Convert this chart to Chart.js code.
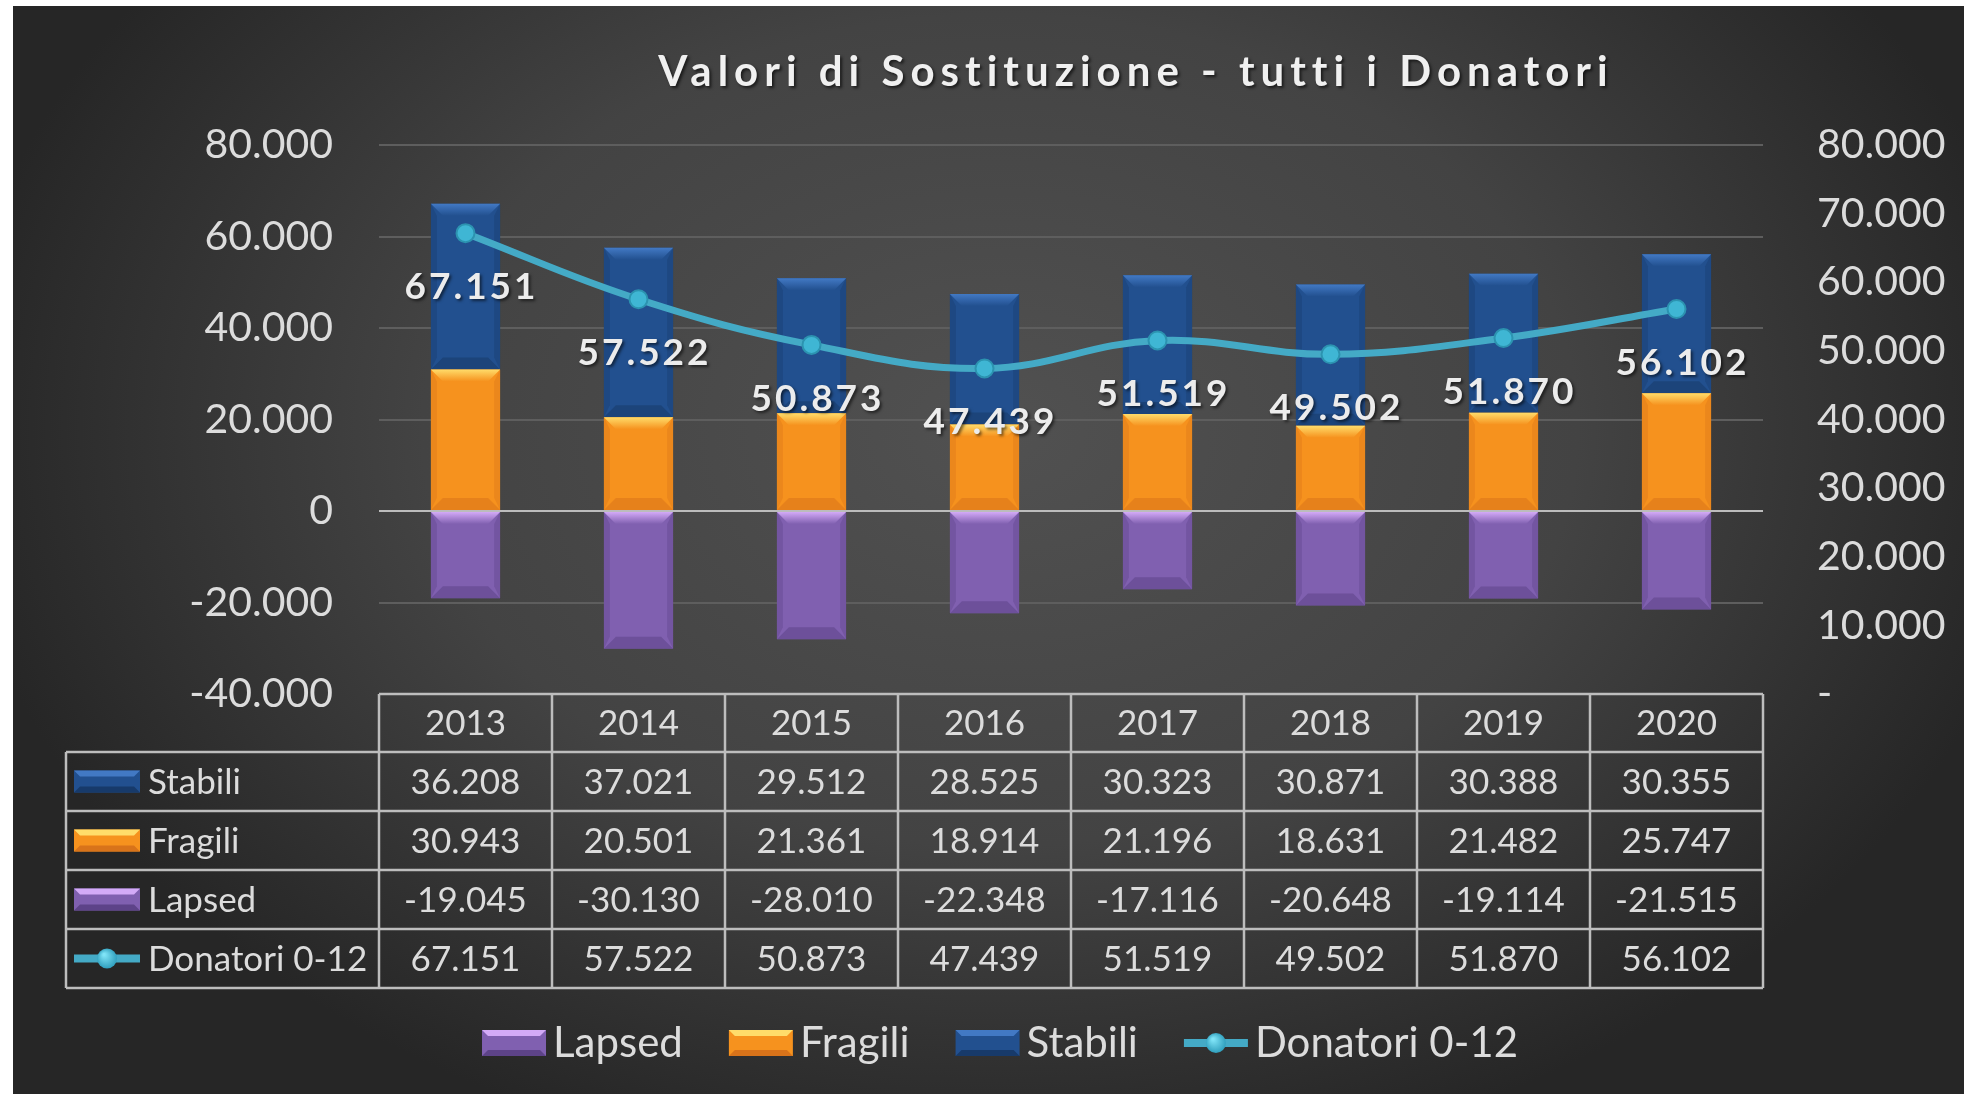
<!DOCTYPE html>
<html>
<head>
<meta charset="utf-8">
<title>Valori di Sostituzione - tutti i Donatori</title>
<script src="https://cdn.jsdelivr.net/npm/chart.js@4.4.1/dist/chart.umd.min.js"></script>
<style>
    html, body { margin: 0; padding: 0; background: #fff; }
    #wrap { width: 1964px; height: 1094px; position: relative; }
</style>
</head>
<body>
<div id="wrap"><canvas id="chart" width="1964" height="1094"></canvas></div>
<script>
// --- data ---
const years = ['2013', '2014', '2015', '2016', '2017', '2018', '2019', '2020'];
const stabili = [36208, 37021, 29512, 28525, 30323, 30871, 30388, 30355];
const fragili = [30943, 20501, 21361, 18914, 21196, 18631, 21482, 25747];
const lapsed = [-19045, -30130, -28010, -22348, -17116, -20648, -19114, -21515];
const donatori = [67151, 57522, 50873, 47439, 51519, 49502, 51870, 56102];

const leftAxis = { min: -40000, max: 80000, step: 20000 };
const rightAxis = { min: 0, max: 80000, step: 10000 };

const TITLE = 'Valori di Sostituzione - tutti i Donatori';
const FONT = 'Lato, "Open Sans", sans-serif';
const TEXT = '#dcdcdc';

const COLORS = {
    stabili: { base: '#22508f', light: '#4279c4', dark: '#173a6a' },
    fragili: { base: '#f6921e', light: '#ffdc6a', dark: '#d8731a' },
    lapsed: { base: '#8060b0', light: '#d3aaf7', dark: '#5d4388' },
    line: '#44aac6'
};

// table rows in the order shown under the chart
const tableRows = [
    { name: 'Stabili', values: stabili, kind: 'bar', colors: COLORS.stabili },
    { name: 'Fragili', values: fragili, kind: 'bar', colors: COLORS.fragili },
    { name: 'Lapsed', values: lapsed, kind: 'bar', colors: COLORS.lapsed },
    { name: 'Donatori 0-12', values: donatori, kind: 'line' }
];
const legendItems = [
    { name: 'Lapsed', kind: 'bar', colors: COLORS.lapsed },
    { name: 'Fragili', kind: 'bar', colors: COLORS.fragili },
    { name: 'Stabili', kind: 'bar', colors: COLORS.stabili },
    { name: 'Donatori 0-12', kind: 'line' }
];

function fmt(v) {
    const s = Math.abs(v).toString().replace(/\B(?=(\d{3})+(?!\d))/g, '.');
    return (v < 0 ? '-' : '') + s;
}

function drawSwatch(ctx, item, x, y, w, h) {
    if (item.kind === 'line') {
        ctx.save();
        ctx.strokeStyle = COLORS.line;
        ctx.lineWidth = 8;
        ctx.lineCap = 'butt';
        ctx.beginPath();
        ctx.moveTo(x, y + h / 2);
        ctx.lineTo(x + w, y + h / 2);
        ctx.stroke();
        const g = ctx.createRadialGradient(x + w / 2 - 3, y + h / 2 - 4, 1, x + w / 2, y + h / 2, 11);
        g.addColorStop(0, '#7fe4f7');
        g.addColorStop(1, '#2a9ab9');
        ctx.fillStyle = g;
        ctx.beginPath();
        ctx.arc(x + w / 2, y + h / 2, 10, 0, Math.PI * 2);
        ctx.fill();
        ctx.restore();
        return;
    }
    ctx.save();
    const c = item.colors;
    ctx.fillStyle = c.base;
    ctx.fillRect(x, y, w, h);
    const b = 6;
    ctx.fillStyle = c.light;
    ctx.beginPath();
    ctx.moveTo(x, y); ctx.lineTo(x + w, y); ctx.lineTo(x + w - b, y + b); ctx.lineTo(x + b, y + b);
    ctx.closePath(); ctx.fill();
    ctx.fillStyle = c.dark;
    ctx.beginPath();
    ctx.moveTo(x, y + h); ctx.lineTo(x + w, y + h); ctx.lineTo(x + w - b, y + h - b); ctx.lineTo(x + b, y + h - b);
    ctx.closePath(); ctx.fill();
    ctx.restore();
}

// background: white frame strip on the left / top, dark radial gradient
const backgroundPlugin = {
    id: 'bg',
    beforeDraw(chart) {
        const ctx = chart.ctx;
        ctx.save();
        ctx.fillStyle = '#ffffff';
        ctx.fillRect(0, 0, chart.width, chart.height);
        ctx.beginPath();
        ctx.rect(13, 6, chart.width - 13, chart.height - 6);
        ctx.clip();
        ctx.translate(1000, 430);
        ctx.scale(1, 0.72);
        const g = ctx.createRadialGradient(0, 0, 0, 0, 0, 1050);
        g.addColorStop(0, '#515151');
        g.addColorStop(0.55, '#434343');
        g.addColorStop(1, '#262626');
        ctx.fillStyle = g;
        ctx.fillRect(-1100, -1000, 2200, 2000);
        ctx.restore();
    }
};

// bevel look on every bar, drawn right after its dataset
const bevelPlugin = {
    id: 'bevel',
    afterDatasetDraw(chart, args) {
        const meta = args.meta;
        if (meta.type !== 'bar') return;
        const key = ['stabili', 'fragili', 'lapsed'].find(k => meta.label.toLowerCase() === k);
        const c = COLORS[key];
        const ctx = chart.ctx;
        ctx.save();
        meta.data.forEach(bar => {
            const left = bar.x - bar.width / 2;
            const right = bar.x + bar.width / 2;
            const top = Math.min(bar.y, bar.base);
            const bottom = Math.max(bar.y, bar.base);
            const b = Math.min(12, (bottom - top) / 3);
            const tg = ctx.createLinearGradient(0, top, 0, top + b);
            tg.addColorStop(0, c.light);
            tg.addColorStop(1, c.base);
            ctx.fillStyle = tg;
            ctx.beginPath();
            ctx.moveTo(left, top); ctx.lineTo(right, top); ctx.lineTo(right - b, top + b); ctx.lineTo(left + b, top + b);
            ctx.closePath(); ctx.fill();
            ctx.globalAlpha = 0.55;
            ctx.fillStyle = c.dark;
            ctx.beginPath();
            ctx.moveTo(left, bottom); ctx.lineTo(right, bottom); ctx.lineTo(right - b, bottom - b); ctx.lineTo(left + b, bottom - b);
            ctx.closePath(); ctx.fill();
            ctx.globalAlpha = 0.35;
            ctx.beginPath();
            ctx.moveTo(right, top); ctx.lineTo(right, bottom); ctx.lineTo(right - b / 2, bottom - b); ctx.lineTo(right - b / 2, top + b);
            ctx.closePath(); ctx.fill();
            ctx.beginPath();
            ctx.moveTo(left, top); ctx.lineTo(left, bottom); ctx.lineTo(left + b / 2, bottom - b); ctx.lineTo(left + b / 2, top + b);
            ctx.closePath(); ctx.fill();
            ctx.globalAlpha = 1;
        });
        ctx.restore();
    }
};

// title, value labels, data table and legend
const overlayPlugin = {
    id: 'overlay',
    afterDraw(chart) {
        const ctx = chart.ctx;
        const area = chart.chartArea;
        const xs = chart.scales.x;

        // title
        ctx.save();
        ctx.font = 'bold 42px ' + FONT;
        ctx.letterSpacing = '6px';
        ctx.fillStyle = '#f0f0f0';
        ctx.textAlign = 'center';
        ctx.textBaseline = 'middle';
        ctx.shadowColor = 'rgba(0,0,0,0.6)';
        ctx.shadowOffsetX = 2; ctx.shadowOffsetY = 2; ctx.shadowBlur = 3;
        ctx.fillText(TITLE, 1136, 72);
        ctx.restore();

        // value labels below the line points
        const lineMeta = chart.getDatasetMeta(0);
        ctx.save();
        ctx.font = 'bold 37px ' + FONT;
        ctx.letterSpacing = '3px';
        ctx.fillStyle = '#ececec';
        ctx.textAlign = 'center';
        ctx.textBaseline = 'middle';
        ctx.shadowColor = 'rgba(0,0,0,0.55)';
        ctx.shadowOffsetX = 2; ctx.shadowOffsetY = 2; ctx.shadowBlur = 3;
        lineMeta.data.forEach((pt, i) => {
            ctx.fillText(fmt(donatori[i]), pt.x + 6, pt.y + 54);
        });
        ctx.restore();

        // data table
        const colW = area.width / years.length;
        const headTop = area.bottom;
        const headH = 58;
        const rowH = 59;
        const legendLeft = 66;
        const tableBottom = headTop + headH + rowH * tableRows.length;
        ctx.save();
        ctx.strokeStyle = '#bdbdbd';
        ctx.lineWidth = 2.5;
        ctx.beginPath();
        // header row
        ctx.moveTo(area.left, headTop); ctx.lineTo(area.right, headTop);
        for (let r = 0; r <= tableRows.length; r++) {
            const y = headTop + headH + r * rowH;
            ctx.moveTo(legendLeft, y); ctx.lineTo(area.right, y);
        }
        ctx.moveTo(legendLeft, headTop + headH); ctx.lineTo(legendLeft, tableBottom);
        years.forEach((y, i) => {
            const x = xs.getPixelForValue(i) - colW / 2;
            ctx.moveTo(x, headTop); ctx.lineTo(x, tableBottom);
        });
        ctx.moveTo(area.right, headTop); ctx.lineTo(area.right, tableBottom);
        ctx.stroke();

        ctx.font = '35px ' + FONT;
        ctx.fillStyle = TEXT;
        ctx.textBaseline = 'middle';
        ctx.textAlign = 'center';
        years.forEach((y, i) => {
            ctx.fillText(y, xs.getPixelForValue(i), headTop + headH / 2 + 1);
        });
        tableRows.forEach((row, r) => {
            const cy = headTop + headH + r * rowH + rowH / 2 + 1;
            ctx.textAlign = 'center';
            row.values.forEach((v, i) => {
                ctx.fillText(fmt(v), xs.getPixelForValue(i), cy);
            });
            drawSwatch(ctx, row, 74, cy - 12, 66, 22);
            ctx.textAlign = 'left';
            ctx.fillText(row.name, 148, cy);
        });
        ctx.restore();

        // legend
        ctx.save();
        ctx.font = '42px ' + FONT;
        ctx.fillStyle = TEXT;
        ctx.textBaseline = 'middle';
        ctx.textAlign = 'left';
        const swW = 64, swGap = 7, itemGap = 46;
        const widths = legendItems.map(it => swW + swGap + ctx.measureText(it.name).width);
        const total = widths.reduce((a, b) => a + b, 0) + itemGap * (legendItems.length - 1);
        let x = 1000 - total / 2;
        const ly = 1043;
        legendItems.forEach((it, i) => {
            drawSwatch(ctx, it, x, ly - 13, swW, 26);
            ctx.fillText(it.name, x + swW + swGap, ly);
            x += widths[i] + itemGap;
        });
        ctx.restore();
    }
};

new Chart(document.getElementById('chart'), {
    type: 'bar',
    data: {
        labels: years,
        datasets: [
            {
                type: 'line',
                label: 'Donatori 0-12',
                data: donatori,
                yAxisID: 'y2',
                order: 0,
                borderColor: COLORS.line,
                borderWidth: 7,
                tension: 0.4,
                pointRadius: 9,
                pointBackgroundColor: '#3fb6d4',
                pointBorderColor: '#2c93b0',
                pointBorderWidth: 2
            },
            { label: 'Fragili', data: fragili, backgroundColor: COLORS.fragili.base, stack: 's', order: 1 },
            { label: 'Stabili', data: stabili, backgroundColor: COLORS.stabili.base, stack: 's', order: 1 },
            { label: 'Lapsed', data: lapsed, backgroundColor: COLORS.lapsed.base, stack: 's', order: 1 }
        ]
    },
    options: {
        responsive: false,
        animation: false,
        devicePixelRatio: 1,
        layout: { padding: { top: 145, bottom: 400, left: 0, right: 0 } },
        datasets: { bar: { barPercentage: 0.4, categoryPercentage: 1 } },
        plugins: {
            legend: { display: false },
            title: { display: false },
            tooltip: { enabled: false }
        },
        scales: {
            x: { display: false, stacked: true },
            y: {
                position: 'left',
                stacked: true,
                min: leftAxis.min,
                max: leftAxis.max,
                border: { display: false },
                grid: {
                    drawTicks: false,
                    lineWidth: 2,
                    color: ctx => ctx.tick && ctx.tick.value === 0 ? '#bcbcbc' : (ctx.tick && ctx.tick.value === leftAxis.min ? 'rgba(0,0,0,0)' : '#5e5e5e')
                },
                ticks: {
                    stepSize: leftAxis.step,
                    padding: 46,
                    color: TEXT,
                    font: { family: FONT, size: 41 },
                    callback: v => fmt(v)
                },
                afterFit: s => { s.width = 379; }
            },
            y2: {
                position: 'right',
                min: rightAxis.min,
                max: rightAxis.max,
                border: { display: false },
                grid: { display: false, drawTicks: false },
                ticks: {
                    stepSize: rightAxis.step,
                    padding: 54,
                    color: TEXT,
                    font: { family: FONT, size: 41 },
                    callback: v => v === 0 ? '-' : fmt(v)
                },
                afterFit: s => { s.width = 201; }
            }
        }
    },
    plugins: [backgroundPlugin, bevelPlugin, overlayPlugin]
});
</script>
</body>
</html>
